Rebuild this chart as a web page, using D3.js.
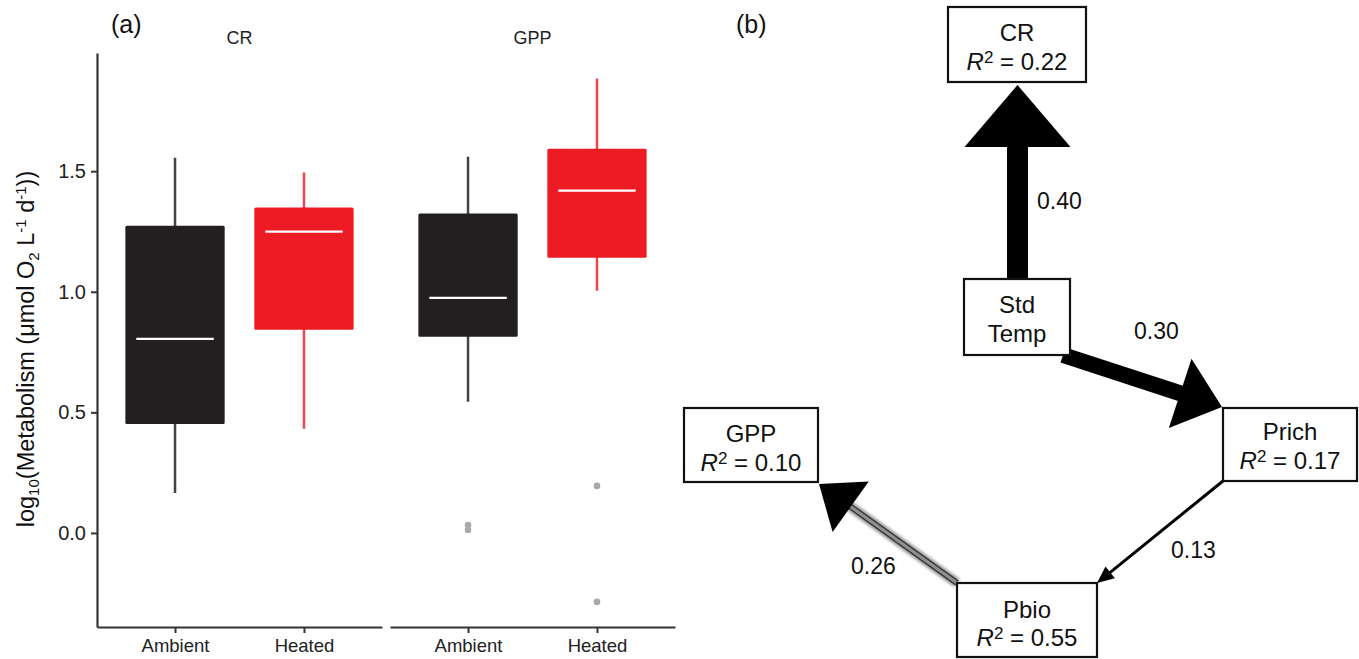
<!DOCTYPE html>
<html>
<head>
<meta charset="utf-8">
<script src="https://cdn.jsdelivr.net/npm/d3@7"></script>
<style>
  html, body { margin: 0; padding: 0; background: #fff; }
  svg { display: block; font-family: "Liberation Sans", Arial, Helvetica, sans-serif; }
</style>
</head>
<body>
<svg id="chart" width="1359" height="659"></svg>
<script>
// ---------- DATA ----------
const facets = ["CR", "GPP"];
const treatments = ["Ambient", "Heated"];
// box stats per facet: [min, q1, median, q3, max] for Ambient, Heated
const crAmbient  = [0.166, 0.452, 0.805, 1.274, 1.556];
const crHeated   = [0.432, 0.842, 1.249, 1.349, 1.494];
const gppAmbient = [0.544, 0.813, 0.975, 1.324, 1.560];
const gppHeated  = [1.004, 1.141, 1.419, 1.593, 1.884];
const crOutliers  = [[], []];
const gppOutliers = [[0.033, 0.012], [0.195, -0.286]];
const yTicks = [0.0, 0.5, 1.0, 1.5];

// path diagram
const nodeNames = ["CR", "StdTemp", "Prich", "GPP", "Pbio"];
const nodeR2 = [0.22, null, 0.17, 0.10, 0.55];
const pathFrom = ["StdTemp", "StdTemp", "Prich", "Pbio"];
const pathTo   = ["CR", "Prich", "Pbio", "GPP"];
const pathCoef = [0.40, 0.30, 0.13, 0.26];

// ---------- LAYOUT ----------
const svg = d3.select("#chart");
const font = "Liberation Sans, Arial, Helvetica, sans-serif";

const y = d3.scaleLinear().domain([-0.39, 1.99]).range([627, 53]);
const panels = [[97, 382], [390, 675]];
const statsByFacet = [[crAmbient, crHeated], [gppAmbient, gppHeated]];
const outByFacet = [crOutliers, gppOutliers];
const fillCols = ["#231f20", "#ed1c24"];
const whiskCols = ["#444444", "#f0454b"];

// y axis
const yAxis = d3.axisLeft(y).tickValues(yTicks).tickFormat(d3.format(".1f"))
  .tickSize(6).tickSizeOuter(0).tickPadding(5);
const gy = svg.append("g").attr("transform", "translate(97,0)").call(yAxis);
gy.attr("font-size", null).attr("font-family", null);
gy.select(".domain").attr("stroke", "#333").attr("stroke-width", 2.2);
gy.selectAll(".tick line").attr("stroke", "#333").attr("stroke-width", 2);
gy.selectAll(".tick text").attr("font-size", 20).attr("font-family", font).attr("fill", "#222");

facets.forEach((f, fi) => {
  const x = d3.scalePoint().domain(treatments).range(panels[fi]).padding(0.605);
  const step = x.step();
  const bw = step * 0.77;
  const g = svg.append("g");
  const xAxis = d3.axisBottom(x).tickSize(6).tickSizeOuter(0).tickPadding(6);
  const gx = g.append("g").attr("transform", "translate(0,627)").call(xAxis);
  gx.attr("font-size", null).attr("font-family", null);
  gx.select(".domain").attr("stroke", "#333").attr("stroke-width", 2.2);
  gx.selectAll(".tick line").attr("stroke", "#333").attr("stroke-width", 2);
  gx.selectAll(".tick text").attr("font-size", 18.5).attr("font-family", font).attr("fill", "#222");

  g.append("text").attr("x", (panels[fi][0] + panels[fi][1]) / 2)
    .attr("y", 44).attr("text-anchor", "middle").attr("font-size", 18)
    .attr("font-family", font).attr("fill", "#222").text(f);

  treatments.forEach((t, ti) => {
    const s = statsByFacet[fi][ti];
    const cx = x(t);
    g.append("line").attr("x1", cx).attr("x2", cx).attr("y1", y(s[0])).attr("y2", y(s[4]))
      .attr("stroke", whiskCols[ti]).attr("stroke-width", 2.5);
    g.append("rect").attr("x", cx - bw / 2).attr("width", bw)
      .attr("y", y(s[3])).attr("height", y(s[1]) - y(s[3]))
      .attr("fill", fillCols[ti]).attr("rx", 1.5);
    g.append("line").attr("x1", cx - bw * 0.39).attr("x2", cx + bw * 0.39)
      .attr("y1", y(s[2])).attr("y2", y(s[2]))
      .attr("stroke", "#fff").attr("stroke-width", 2.2);
    outByFacet[fi][ti].forEach(v => {
      g.append("circle").attr("cx", cx).attr("cy", y(v)).attr("r", 3.3).attr("fill", "#a8a8a8");
    });
  });
});

// panel labels
svg.append("text").attr("x", 111).attr("y", 33).attr("font-size", 25).attr("font-family", font)
  .attr("fill", "#111").text("(a)");
svg.append("text").attr("x", 736).attr("y", 33).attr("font-size", 25).attr("font-family", font)
  .attr("fill", "#111").text("(b)");

// y label
const yl = svg.append("text").attr("transform", "translate(34,349) rotate(-90)")
  .attr("text-anchor", "middle").attr("font-size", 23.5).attr("font-family", font).attr("fill", "#111");
yl.append("tspan").text("log");
yl.append("tspan").attr("font-size", 15).attr("dy", 5).text("10");
yl.append("tspan").attr("dy", -5).text("(Metabolism (\u03bcmol O");
yl.append("tspan").attr("font-size", 15).attr("dy", 5).text("2");
yl.append("tspan").attr("dy", -5).text(" L");
yl.append("tspan").attr("font-size", 15).attr("dy", -8).text("-1");
yl.append("tspan").attr("dy", 8).text(" d");
yl.append("tspan").attr("font-size", 15).attr("dy", -8).text("-1");
yl.append("tspan").attr("dy", 8).text("))");

// ---------- PATH DIAGRAM ----------
const nodeBox = {
  CR:      {x0: 948, x1: 1086, y0: 7,   y1: 82,  lines: ["CR"],          by: [41, 70]},
  StdTemp: {x0: 964, x1: 1070, y0: 279, y1: 355, lines: ["Std", "Temp"], by: [313, 342]},
  Prich:   {x0: 1223, x1: 1357, y0: 408, y1: 481, lines: ["Prich"],      by: [440, 469]},
  GPP:     {x0: 684, x1: 818, y0: 408, y1: 482,  lines: ["GPP"],         by: [442, 471]},
  Pbio:    {x0: 957, x1: 1097, y0: 583, y1: 657, lines: ["Pbio"],        by: [618, 646]}
};
const arrowGeom = {
  "StdTemp-CR":   {s: [1017.5, 300], e: [1017.5, 85],  w: 21, hl: 62, hw: 106},
  "StdTemp-Prich":{s: [1063, 355],   e: [1222, 407],   w: 16, hl: 44, hw: 73},
  "Prich-Pbio":   {s: [1223, 481],   e: [1097, 583],   w: 3,  hl: 17, hw: 15},
  "Pbio-GPP":     {s: [957, 583],    e: [819, 484],    w: 6,  hl: 39, hw: 62, gray: true}
};
const labelPos = {
  "StdTemp-CR": [1037, 209], "StdTemp-Prich": [1134, 339],
  "Prich-Pbio": [1171, 558], "Pbio-GPP": [851, 574]
};

const defs = svg.append("defs");
defs.append("filter").attr("id", "soft").attr("filterUnits", "userSpaceOnUse")
  .attr("x", 0).attr("y", 0).attr("width", 1359).attr("height", 659)
  .append("feGaussianBlur").attr("stdDeviation", 0.7);
defs.append("filter").attr("id", "shadow").attr("filterUnits", "userSpaceOnUse")
  .attr("x", 0).attr("y", 0).attr("width", 1359).attr("height", 659)
  .append("feGaussianBlur").attr("stdDeviation", 1.6);

function shaftPoly(s, e, w) {
  const dx = e[0] - s[0], dy = e[1] - s[1];
  const L = Math.hypot(dx, dy);
  const px = -dy / L * w / 2, py = dx / L * w / 2;
  return d3.line()([[s[0] + px, s[1] + py], [e[0] + px, e[1] + py], [e[0] - px, e[1] - py], [s[0] - px, s[1] - py]]) + "Z";
}

const gArr = svg.append("g");
pathFrom.forEach((from, i) => {
  const key = from + "-" + pathTo[i];
  const a = arrowGeom[key];
  const dx = a.e[0] - a.s[0], dy = a.e[1] - a.s[1];
  const L = Math.hypot(dx, dy);
  const ux = dx / L, uy = dy / L, px = -uy, py = ux;
  const bx = a.e[0] - ux * a.hl, by = a.e[1] - uy * a.hl;
  const end = [bx + ux * 2, by + uy * 2];
  if (a.gray) {
    gArr.append("path").attr("d", shaftPoly(a.s, end, a.w + 4)).attr("fill", "#9a9a9a").attr("filter", "url(#shadow)");
    gArr.append("path").attr("d", shaftPoly(a.s, end, a.w)).attr("fill", "#3a3a3a").attr("filter", "url(#soft)");
    gArr.append("path").attr("d", shaftPoly(a.s, end, a.w - 3)).attr("fill", "#909090");
  } else {
    gArr.append("path").attr("d", shaftPoly(a.s, end, a.w)).attr("fill", "#000").attr("filter", "url(#soft)");
  }
  const pts = [[a.e[0], a.e[1]],
    [bx + px * a.hw / 2, by + py * a.hw / 2],
    [bx - px * a.hw / 2, by - py * a.hw / 2]];
  gArr.append("path").attr("d", d3.line()(pts) + "Z").attr("fill", "#000").attr("filter", "url(#soft)");
  const lp = labelPos[key];
  svg.append("text").attr("x", lp[0]).attr("y", lp[1]).attr("font-size", 23)
    .attr("font-family", font).attr("fill", "#111").text(d3.format(".2f")(pathCoef[i]));
});

const gNodes = svg.append("g");
nodeNames.forEach((n, i) => {
  const b = nodeBox[n];
  gNodes.append("rect").attr("x", b.x0).attr("y", b.y0).attr("width", b.x1 - b.x0).attr("height", b.y1 - b.y0)
    .attr("fill", "#fff").attr("stroke", "#111").attr("stroke-width", 2.2);
  const cx = (b.x0 + b.x1) / 2;
  b.lines.forEach((ln, li) => {
    gNodes.append("text").attr("x", cx).attr("y", b.by[li]).attr("text-anchor", "middle")
      .attr("font-size", 24).attr("font-family", font).attr("fill", "#111").text(ln);
  });
  if (nodeR2[i] !== null) {
    const t = gNodes.append("text").attr("x", cx).attr("y", b.by[1]).attr("text-anchor", "middle")
      .attr("font-size", 24).attr("font-family", font).attr("fill", "#111");
    t.append("tspan").attr("font-style", "italic").text("R");
    t.append("tspan").attr("font-size", 17).attr("dy", -7).text("2");
    t.append("tspan").attr("dy", 7).text(" = " + d3.format(".2f")(nodeR2[i]));
  }
});
</script>
</body>
</html>
